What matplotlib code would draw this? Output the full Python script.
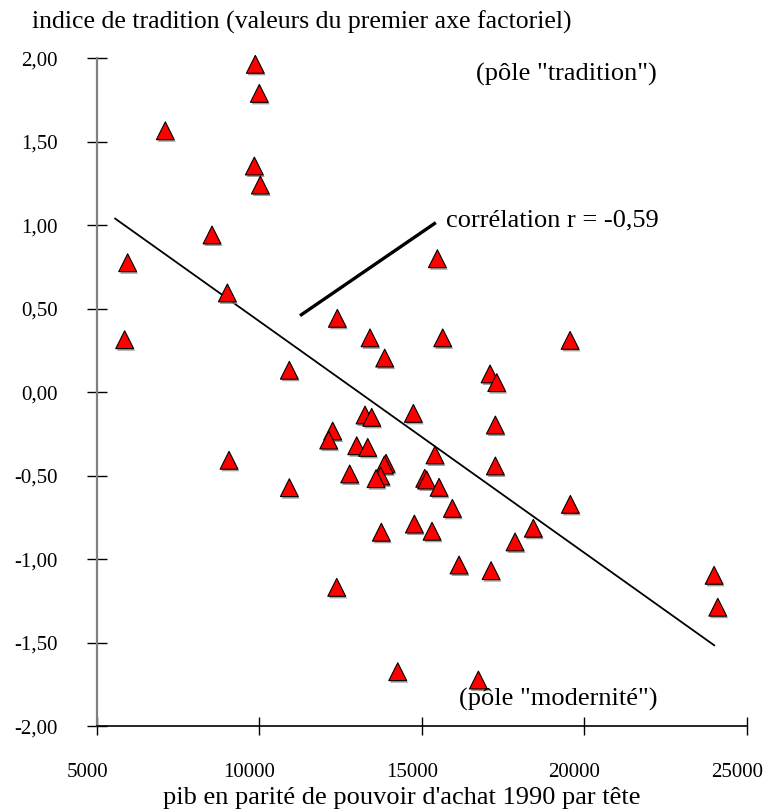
import matplotlib
matplotlib.use("Agg")
import matplotlib.pyplot as plt
import matplotlib.patheffects as pe
import matplotlib.transforms as mtransforms

plt.rcParams['font.family'] = ['Liberation Serif', 'DejaVu Serif']

# --- data ---
pib = [9874, 9997, 7103, 9844, 10029, 8541, 5944, 9013, 5852, 10921,
       9064, 10921, 15478, 12399, 13405, 15643, 13857, 17100, 17306, 13251,
       13457, 14739, 17263, 12256, 12133, 12995, 13334, 15406, 13898, 13846,
       17263, 12779, 13734, 13590, 15089, 15150, 15530, 15940, 19563, 19572,
       13753, 14770, 15314, 18433, 17869, 16145, 17131, 12380, 14258, 16740,
       23997, 24110]
indice = [1.964, 1.79, 1.566, 1.355, 1.241, 0.942, 0.776, 0.595, 0.315, 0.132,
          -0.407, -0.571, 0.80, 0.443, 0.326, 0.326, 0.205, 0.11, 0.058, -0.136,
          -0.15, -0.126, -0.196, -0.232, -0.286, -0.32, -0.33, -0.375, -0.425, -0.435,
          -0.441, -0.489, -0.501, -0.517, -0.515, -0.525, -0.569, -0.695, 0.311, -0.671,
          -0.838, -0.789, -0.832, -0.814, -0.896, -1.034, -1.068, -1.168, -1.673, -1.723,
          -1.096, -1.287]

# regression line end points and the pointer to the r label
fit_x = [5560, 24000]
fit_y = [1.04, -1.515]
pointer_x = [11250, 15430]
pointer_y = [0.459, 1.016]

x_ticks = [5000, 10000, 15000, 20000, 25000]
y_ticks = [-2.0, -1.5, -1.0, -0.5, 0.0, 0.5, 1.0, 1.5, 2.0]
y_tick_labels = ["-2,00", "-1,50", "-1,00", "-0,50", "0,00", "0,50", "1,00", "1,50", "2,00"]

W, H = 765, 810
fig = plt.figure(figsize=(W / 100, H / 100), dpi=100)
ax = fig.add_axes([97 / W, 1 - 726.3 / H, (746.7 - 97) / W, (726.3 - 58.3) / H])

ax.plot(fit_x, fit_y, color='black', lw=1.3, zorder=2)
ax.plot(pointer_x, pointer_y, color='black', lw=2.4, solid_capstyle='butt', zorder=2)

ax.scatter(pib, indice, marker='^', s=165, facecolor='#ff0000', edgecolor='black',
           linewidths=0.8, zorder=3, clip_on=False,
           path_effects=[pe.SimplePatchShadow(offset=(1, -1.5), shadow_rgbFace='#888888', alpha=0.8),
                         pe.Normal()])

ax.set_xlim(5000, 25000)
ax.set_ylim(-2, 2)
ax.set_xticks(x_ticks)
ax.set_yticks(y_ticks)
ax.set_yticklabels(y_tick_labels)

for s in ['top', 'right']:
    ax.spines[s].set_visible(False)
ax.spines['left'].set_color('#808080')
ax.spines['left'].set_linewidth(1.6)
ax.spines['bottom'].set_color('black')
ax.spines['bottom'].set_linewidth(1.2)

ax.tick_params(axis='y', direction='inout', length=14, width=1, color='black',
               labelsize=15, pad=21)
ax.tick_params(axis='x', direction='inout', length=13, width=1, color='black',
               labelsize=15, pad=20)

# x tick labels sit a little left of their ticks in the original
shift = mtransforms.ScaledTranslation(-10 / 100, 0, fig.dpi_scale_trans)
for lab in ax.get_xticklabels():
    lab.set_transform(lab.get_transform() + shift)

ax.text(15745, 1.03, "corrélation r = -0,59", fontsize=19, ha='left', va='center')
ax.text(22240, 1.906, "(pôle \"tradition\")", fontsize=19, ha='right', va='center')
ax.text(22240, -1.84, "(pôle \"modernité\")", fontsize=19, ha='right', va='center')

fig.text(32 / W, 1 - 22 / H, "indice de tradition (valeurs du premier axe factoriel)",
         fontsize=18.5, ha='left', va='center')
fig.text(402 / W, 1 - 798 / H, "pib en parité de pouvoir d'achat 1990 par tête",
         fontsize=19, ha='center', va='center')

fig.savefig("out.png", dpi=100)
